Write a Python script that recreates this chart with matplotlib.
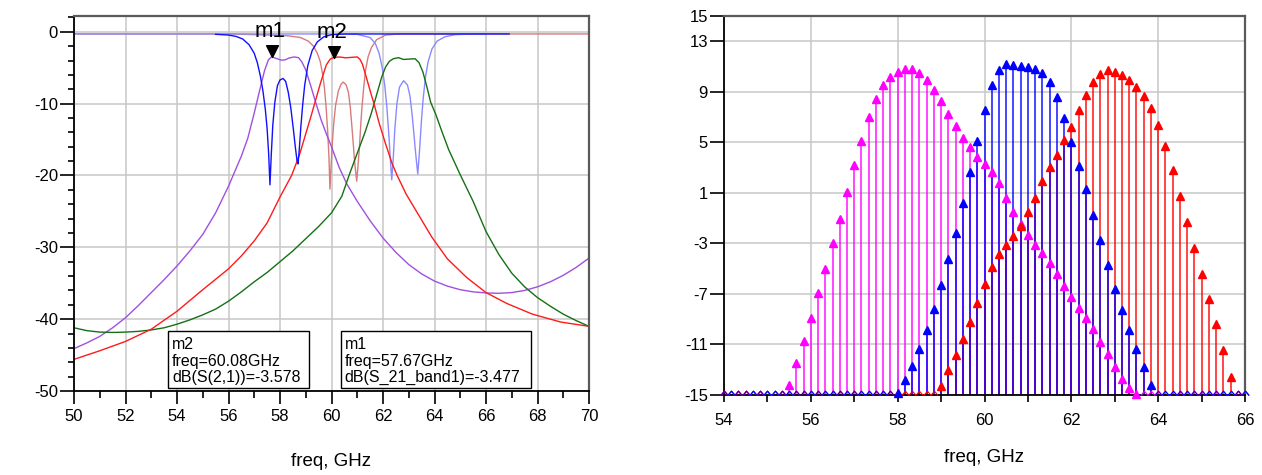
import numpy as np
import matplotlib
matplotlib.use('Agg')
from matplotlib import pyplot as plt
from matplotlib.path import Path
from matplotlib.patches import Rectangle
from matplotlib.ticker import MultipleLocator, FixedLocator

plt.rcParams['font.family'] = ['Liberation Sans', 'DejaVu Sans']
plt.rcParams['axes.unicode_minus'] = False

# ---------------- left chart: filter responses, dB vs GHz ----------------
s21_band1_f = [50, 50.5, 51, 51.5, 52, 52.5, 53, 53.5, 54, 54.5, 55, 55.5, 56, 56.5, 56.75, 57.0,
               57.2, 57.4, 57.55, 57.67, 57.85, 58.05, 58.2, 58.35, 58.55, 58.72, 58.85, 59.0,
               59.2, 59.4, 59.6, 59.8, 60.0, 60.3, 60.6, 61.0, 61.5, 62.0, 62.5, 63.0, 63.5, 64.0,
               64.5, 65.0, 65.5, 66.0, 66.5, 67.0, 67.5, 68.0, 68.5, 69.0, 69.5, 70]
s21_band1_db = [-44.1, -43.3, -42.4, -41.2, -39.8, -38.1, -36.3, -34.5, -32.6, -30.5, -28.2, -25.2,
                -21.5, -17.3, -14.8, -11.3, -8.3, -5.4, -3.9, -3.48, -3.7, -3.95, -3.9, -3.65,
                -3.5, -3.6, -4.2, -5.3, -7.6, -10.0, -12.3, -14.2, -16.0, -18.9, -21.2, -23.6,
                -26.3, -28.7, -30.7, -32.4, -33.7, -34.7, -35.4, -35.9, -36.2, -36.35, -36.4,
                -36.3, -36.0, -35.5, -34.8, -33.9, -32.8, -31.5]

s11_band1_f = [55.5, 56.0, 56.3, 56.55, 56.8, 57.0, 57.12, 57.24, 57.34, 57.43, 57.5, 57.56, 57.61,
               57.66, 57.72, 57.8, 57.9, 58.0, 58.12, 58.22, 58.32, 58.42, 58.52, 58.6, 58.66,
               58.7, 58.75, 58.81, 58.88, 58.96, 59.08, 59.25, 59.45, 59.7, 60.0, 60.5, 62, 64,
               66, 66.9]
s11_band1_db = [-0.35, -0.45, -0.65, -1.0, -1.8, -3.0, -4.3, -6.2, -8.3, -10.8, -13.5, -17.0,
                -21.3, -17.2, -13.0, -9.8, -7.5, -6.7, -6.5, -6.9, -8.4, -10.6, -13.6, -16.2,
                -17.9, -18.4, -16.3, -13.2, -10.2, -7.4, -4.7, -2.6, -1.4, -0.7, -0.4, -0.3,
                -0.3, -0.3, -0.3, -0.3]

s21_band2_f = [50, 51, 52, 53, 54, 55, 56, 56.5, 57, 57.5, 58, 58.45, 58.75, 59.0, 59.2, 59.4,
               59.6, 59.8, 59.95, 60.08, 60.3, 60.55, 60.8, 61.0, 61.1, 61.2, 61.35, 61.5, 61.65,
               61.85, 62.1, 62.35, 62.55, 62.9, 63.3, 63.9, 64.5, 65.25, 66.0, 66.8, 67.8, 68.9,
               70]
s21_band2_db = [-45.6, -44.4, -43.1, -41.4, -38.9, -35.9, -33.0, -31.2, -29.1, -26.6, -23.0,
                -20.0, -17.2, -14.2, -11.8, -9.3, -6.8, -4.6, -3.8, -3.58, -3.5, -3.62, -3.55,
                -3.5, -3.8, -4.5, -6.3, -8.2, -10.0, -12.7, -15.6, -18.3, -20.0, -22.6, -25.0,
                -28.6, -31.6, -34.2, -36.3, -37.8, -39.3, -40.4, -41.0]

s11_band2_f = [50, 56, 57.3, 58.3, 58.8, 59.1, 59.3, 59.45, 59.56, 59.65, 59.72, 59.79, 59.85,
               59.9, 59.94, 59.98, 60.03, 60.09, 60.16, 60.27, 60.37, 60.46, 60.57, 60.66, 60.73,
               60.79, 60.85, 60.9, 60.98, 61.03, 61.08, 61.13, 61.18, 61.25, 61.32, 61.42, 61.55,
               61.75, 62.1, 62.6, 70]
s11_band2_db = [-0.3, -0.3, -0.42, -0.55, -0.8, -1.3, -2.0, -3.0, -4.1, -5.8, -7.6, -10.5, -13.8,
                -17.3, -21.9, -19.0, -15.5, -12.6, -10.2, -8.2, -7.3, -7.0, -7.4, -8.5, -10.5,
                -13.1, -15.8, -18.2, -20.8, -18.6, -16.3, -13.3, -10.6, -7.8, -5.4, -3.5, -2.2,
                -1.1, -0.45, -0.3, -0.3]

s21_band3_f = [50, 50.5, 51, 51.5, 52, 52.5, 53, 53.5, 54, 54.5, 55, 55.5, 56, 56.5, 57, 57.5, 58,
               58.5, 59, 59.5, 60, 60.4, 60.7, 61.0, 61.3, 61.55, 61.75, 61.95, 62.1, 62.25, 62.4,
               62.6, 62.8, 63.0, 63.25, 63.4, 63.55, 63.7, 63.85, 64.05, 64.3, 64.55, 65.0, 65.5,
               66.0, 66.5, 67.0, 67.5, 68.0, 68.5, 69.0, 69.5, 70]
s21_band3_db = [-41.2, -41.6, -41.8, -41.85, -41.8, -41.7, -41.5, -41.2, -40.7, -40.1, -39.4,
                -38.6, -37.5, -36.2, -34.8, -33.5, -32.0, -30.5, -28.8, -27.1, -25.2, -22.9,
                -19.8, -16.9, -14.0, -11.3, -8.8, -6.3, -4.9, -4.1, -3.75, -3.6, -3.85, -3.8,
                -3.75, -4.3, -5.6, -7.6, -9.8, -11.5, -14.0, -16.4, -19.9, -23.6, -27.8, -31.0,
                -33.6, -35.5, -37.0, -38.2, -39.3, -40.2, -41.0]

s11_band3_f = [50, 60, 61.0, 61.5, 61.7, 61.85, 61.97, 62.07, 62.15, 62.23, 62.29, 62.34, 62.4,
               62.46, 62.54, 62.64, 62.8, 62.95, 63.05, 63.13, 63.2, 63.27, 63.35, 63.42, 63.49,
               63.56, 63.65, 63.75, 63.9, 64.1, 64.4, 64.8, 65.5, 66]
s11_band3_db = [-0.3, -0.3, -0.35, -0.8, -1.6, -3.0, -5.0, -7.5, -10.5, -14.5, -18.0, -20.6,
                -17.5, -13.5, -10.0, -7.7, -6.8, -7.4, -9.0, -11.5, -14.2, -17.0, -19.8, -16.5,
                -12.5, -9.3, -6.3, -4.2, -2.4, -1.3, -0.7, -0.4, -0.3, -0.3]

# markers
m1_freq, m1_db = 57.67, -3.477
m2_freq, m2_db = 60.08, -3.578
m1_lines = ["m1", "freq=57.67GHz", "dB(S_21_band1)=-3.477"]
m2_lines = ["m2", "freq=60.08GHz", "dB(S(2,1))=-3.578"]

# ---------------- right chart: stem series on a 1/6 GHz grid ----------------
stem_freq = np.linspace(54, 66, 73)
magenta_vals = [-15.0] * 9 + [
    -14.2, -12.45, -10.7, -8.9, -6.95, -5.0, -3.0, -1.05, 1.05, 3.2, 5.1, 6.97, 8.43, 9.5,
    10.17, 10.6, 10.78, 10.78, 10.46, 9.9, 9.18, 8.27, 7.25, 6.27, 5.31, 4.6, 3.87, 3.3, 2.68,
    1.75, 0.57, -0.49, -1.5, -2.3, -3.1, -3.75, -4.55, -5.45, -6.38, -7.25, -8.13, -8.9, -9.8,
    -10.77, -11.77, -12.8, -13.7, -14.45, -14.9] + [-15.0] * 15
blue_vals = [-15.0] * 24 + [
    -14.85, -13.85, -12.7, -11.35, -9.85, -8.17, -6.3, -4.2, -2.15, 0.22, 2.65, 5.12, 7.55,
    9.52, 10.72, 11.18, 11.13, 11.02, 10.94, 10.83, 10.52, 9.8, 8.6, 6.9, 5.06, 3.12, 1.27,
    -0.72, -2.7, -4.73, -6.6, -8.29, -9.87, -11.33, -12.77, -14.22] + [-15.0] * 13
red_vals = [-15.0] * 30 + [
    -14.3, -13.05, -11.83, -10.55, -9.23, -7.74, -6.24, -4.84, -3.87, -3.15, -2.45, -1.6,
    -0.55, 0.63, 1.94, 3.05, 4.02, 5.15, 6.25, 7.52, 8.73, 9.76, 10.4, 10.7, 10.6, 10.35, 9.9,
    9.4, 8.66, 7.73, 6.36, 4.71, 2.8, 0.77, -1.27, -3.33, -5.44, -7.41, -9.41, -11.45,
    -13.56] + [-15.0] * 2
right_yticks = [15, 13, 9, 5, 1, -3, -7, -11, -15]

W, H = 1262, 475
fig = plt.figure(figsize=(W / 100, H / 100), dpi=100)


def px_rect(l, t, r, b):
    return [l / W, 1 - b / H, (r - l) / W, (b - t) / H]


def style_frame(ax):
    for side in ['left', 'bottom']:
        ax.spines[side].set_color('black')
        ax.spines[side].set_linewidth(1.3)
    for side in ['top', 'right']:
        ax.spines[side].set_color('#5a5a5a')
        ax.spines[side].set_linewidth(1.6)
    ax.set_axisbelow(True)


GRID = dict(color='#c8c8c8', linewidth=1.1)

# ---- left ----
ax1 = fig.add_axes(px_rect(74, 16, 589, 391))
style_frame(ax1)
ax1.set_xlim(50, 70)
ax1.set_ylim(-50, 2.2)
ax1.xaxis.set_major_locator(MultipleLocator(2))
ax1.xaxis.set_minor_locator(MultipleLocator(1))
ax1.yaxis.set_major_locator(MultipleLocator(10))
ax1.yaxis.set_minor_locator(MultipleLocator(2))
ax1.grid(True, which='major', **GRID)
ax1.tick_params(axis='x', which='major', length=9, width=1.2, labelsize=12, pad=4)
ax1.tick_params(axis='x', which='minor', length=5, width=1.2)
ax1.tick_params(axis='y', which='major', length=10, width=1.2, labelsize=12, pad=1.5)
ax1.tick_params(axis='y', which='minor', length=4.5, width=1.2)

ax1.plot(s11_band2_f, s11_band2_db, color='#d77b7b', lw=1.0)
ax1.plot(s11_band3_f, s11_band3_db, color='#8a8aff', lw=1.0)
ax1.plot(s21_band1_f, s21_band1_db, color='#a050e0', lw=1.0)
ax1.plot(s21_band3_f, s21_band3_db, color='#157015', lw=1.0)
ax1.plot(s21_band2_f, s21_band2_db, color='#ff1a1a', lw=1.0)
ax1.plot(s11_band1_f, s11_band1_db, color='#1010ff', lw=1.0)

tri_down = Path([(-1, 2), (1, 2), (0, 0), (-1, 2)],
                [Path.MOVETO, Path.LINETO, Path.LINETO, Path.CLOSEPOLY])
for mf, mdb, name in [(m1_freq, m1_db, 'm1'), (m2_freq, m2_db, 'm2')]:
    ax1.plot([mf], [mdb], marker=tri_down, ms=17, color='black', ls='none', zorder=5)
    ax1.annotate(name, (mf, mdb), xytext=(-1, 14), textcoords='offset points',
                 ha='center', va='baseline', fontsize=16, zorder=6)


def marker_box(ax, l_px, r_px, lines):
    x0 = (l_px - 74) / 515
    x1 = (r_px - 74) / 515
    y0 = (391 - 388) / 375
    y1 = (391 - 331) / 375
    ax.add_patch(Rectangle((x0, y0), x1 - x0, y1 - y0, transform=ax.transAxes,
                           facecolor='white', edgecolor='black', lw=1.0, zorder=7))
    for base_px, txt in zip([349, 366, 382], lines):
        ax.text((l_px + 4 - 74) / 515, (391 - base_px) / 375, txt, transform=ax.transAxes,
                fontsize=11.5, va='baseline', ha='left', zorder=8)


marker_box(ax1, 168, 309, m2_lines)
marker_box(ax1, 340.7, 530.7, m1_lines)

# ---- right ----
ax2 = fig.add_axes(px_rect(724, 16, 1245, 395))
style_frame(ax2)
ax2.set_xlim(54, 66)
ax2.set_ylim(-15, 15)
ax2.xaxis.set_major_locator(MultipleLocator(2))
ax2.xaxis.set_minor_locator(MultipleLocator(1))
ax2.yaxis.set_major_locator(FixedLocator(right_yticks))
ax2.grid(True, which='major', **GRID)
ax2.tick_params(axis='x', which='both', length=5, width=1.2, labelsize=12, pad=8)
ax2.tick_params(axis='y', which='major', length=10, width=1.2, labelsize=12, pad=1.5)

zigzag = Path([(-0.5, 0), (0, 0.6), (0.5, 0)], [Path.MOVETO, Path.LINETO, Path.LINETO])
series = [(magenta_vals, '#ff00ff'), (red_vals, '#ff0000'), (blue_vals, '#0000ff')]
for vals, col in series:
    v = np.array(vals)
    flat = v <= -14.99
    ax2.plot(stem_freq[flat], v[flat], ls='none', marker=zigzag, ms=6.2, mfc='none',
             mec=col, mew=0.8, clip_on=False, zorder=3)
for vals, col in series:
    v = np.array(vals)
    up = v > -14.99
    ax2.vlines(stem_freq[up], -15, v[up], colors=col, lw=1.2, alpha=0.85, zorder=2)
for vals, col in series:
    v = np.array(vals)
    up = v > -14.99
    ax2.plot(stem_freq[up], v[up], ls='none', marker='^', ms=6, color=col, zorder=4,
             clip_on=False)

fig.text(331 / W, (H - 466.5) / H, 'freq, GHz', ha='center', va='baseline', fontsize=13.5)
fig.text(984 / W, (H - 462) / H, 'freq, GHz', ha='center', va='baseline', fontsize=13.5)

fig.savefig('out.png', dpi=100)
